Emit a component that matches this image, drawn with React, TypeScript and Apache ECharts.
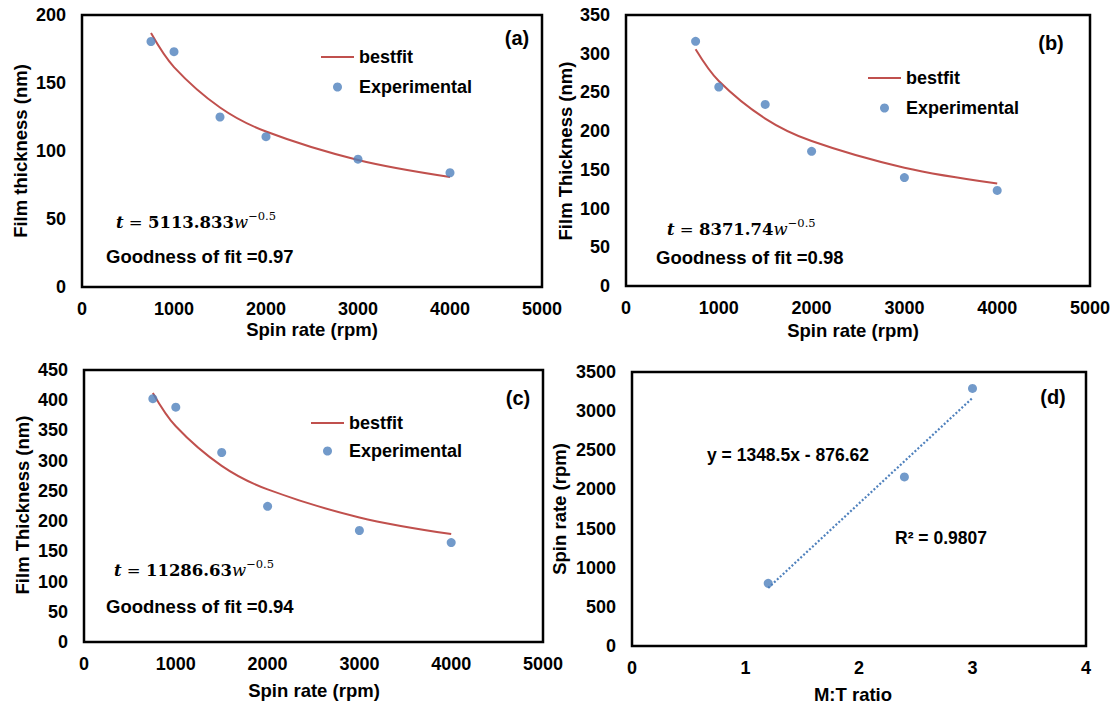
import React, { useEffect, useRef } from "react";
import * as echarts from "echarts";

// Spin rates used for panels (a)–(c)
const SPIN_RPM = [750, 1000, 1500, 2000, 3000, 4000];

// Panel (a)
const EXP_A = [180.5, 173, 125, 110.5, 94, 84];
const FIT_A = [186.7, 161.7, 132.0, 114.3, 93.4, 80.9];
// Panel (b)
const EXP_B = [316, 257, 234.5, 174, 140, 123.5];
const FIT_B = [305.7, 264.7, 216.2, 187.2, 152.8, 132.4];
// Panel (c)
const EXP_C = [402.5, 388.5, 313.5, 224.5, 184.5, 164.5];
const FIT_C = [412.1, 356.9, 291.4, 252.4, 206.1, 178.5];
// Panel (d)
const MT_RATIO = [1.2, 2.4, 3.0];
const SPIN_D = [800, 2160, 3290];
const TREND_X = [1.2, 3.0];
const TREND_Y = [741.58, 3168.88];

const RED = "#C0504D";
const BLUE = "#4F81BD";
const SANS = "'Liberation Sans', Arial, sans-serif";
const SERIF = "'DejaVu Serif', serif";

const zip = (xs: number[], ys: number[]) => xs.map((x, i) => [x, ys[i]]);

const grids = [
  { left: 82, top: 15, width: 460, height: 272 },
  { left: 626, top: 15, width: 464, height: 271 },
  { left: 84, top: 370, width: 459, height: 272 },
  { left: 632, top: 372, width: 454, height: 274 },
];

const axisLabel = {
  color: "#000",
  fontFamily: SANS,
  fontWeight: "bold" as const,
  fontSize: 18,
  formatter: (v: number) => String(v),
};

function xAxis(i: number, max: number, interval: number) {
  return {
    type: "value" as const,
    gridIndex: i,
    min: 0,
    max,
    interval,
    axisLine: { show: false },
    axisTick: { show: false },
    splitLine: { show: false },
    axisLabel: { ...axisLabel, margin: 13 },
  };
}

function yAxis(i: number, max: number, interval: number) {
  return {
    type: "value" as const,
    gridIndex: i,
    min: 0,
    max,
    interval,
    axisLine: { show: false },
    axisTick: { show: false },
    splitLine: { show: false },
    axisLabel: { ...axisLabel, margin: 16 },
  };
}

function fitSeries(i: number, data: number[]) {
  return {
    name: "bestfit",
    type: "line" as const,
    xAxisIndex: i,
    yAxisIndex: i,
    data: zip(SPIN_RPM, data),
    smooth: 0.35,
    symbol: "none",
    lineStyle: { color: RED, width: 2 },
    itemStyle: { color: RED },
    z: 2,
  };
}

function expSeries(i: number, data: number[]) {
  return {
    name: "Experimental",
    type: "scatter" as const,
    xAxisIndex: i,
    yAxisIndex: i,
    data: zip(SPIN_RPM, data),
    symbol: "circle",
    symbolSize: 9,
    itemStyle: { color: BLUE },
    z: 3,
  };
}

function legendAt(left: number, top: number, gap: number) {
  return {
    data: [
      { name: "bestfit", icon: "path://M0,0 L33,0 L33,2 L0,2 Z", itemStyle: { color: RED } },
      { name: "Experimental", icon: "circle" },
    ],
    orient: "vertical" as const,
    left,
    top,
    padding: 0,
    itemWidth: 33,
    itemHeight: 9,
    itemGap: gap,
    selectedMode: false,
    textStyle: { color: "#000", fontFamily: SANS, fontWeight: "bold" as const, fontSize: 18 },
  };
}

function boldText(text: string, x: number, y: number, size: number, align = "left") {
  return {
    type: "text" as const,
    x,
    y,
    style: {
      text,
      fill: "#000",
      font: `bold ${size}px ${SANS}`,
      align,
      verticalAlign: "middle",
    },
  };
}

function yTitle(text: string, x: number, y: number) {
  return {
    type: "text" as const,
    x,
    y,
    rotation: Math.PI / 2,
    style: {
      text,
      fill: "#000",
      font: `bold 18.5px ${SANS}`,
      align: "center",
      verticalAlign: "middle",
    },
  };
}

const eqRich = {
  t: { fontFamily: SERIF, fontStyle: "italic", fontWeight: "bold", fontSize: 16.5, lineHeight: 21, verticalAlign: "bottom", fill: "#000" },
  e: { fontFamily: SERIF, fontSize: 16.5, lineHeight: 21, verticalAlign: "bottom", fill: "#000" },
  n: { fontFamily: SERIF, fontWeight: "bold", fontSize: 16.5, lineHeight: 21, verticalAlign: "bottom", fill: "#000" },
  w: { fontFamily: SERIF, fontStyle: "italic", fontSize: 16.5, lineHeight: 21, verticalAlign: "bottom", fill: "#000" },
  s: { fontFamily: SERIF, fontSize: 11.5, lineHeight: 13, verticalAlign: "top", fill: "#000" },
};

function equation(coef: string, x: number, y: number) {
  return {
    type: "text" as const,
    x,
    y,
    style: {
      text: `{t|t}{e| = }{n|${coef}}{w|w}{s|\u22120.5}`,
      rich: eqRich,
      align: "left",
      verticalAlign: "middle",
    },
  };
}

export default function App() {
  const ref = useRef<HTMLDivElement>(null);

  useEffect(() => {
    if (!ref.current) return;
    const chart = echarts.init(ref.current, undefined, { renderer: "svg" });

    const option = {
      animation: false,
      backgroundColor: "#fff",
      grid: grids.map((g) => ({
        ...g,
        show: true,
        borderColor: "#000",
        borderWidth: 2.5,
        backgroundColor: "transparent",
        containLabel: false,
        outerBoundsMode: "none",
      })),
      xAxis: [xAxis(0, 5000, 1000), xAxis(1, 5000, 1000), xAxis(2, 5000, 1000), xAxis(3, 4, 1)],
      yAxis: [yAxis(0, 200, 50), yAxis(1, 350, 50), yAxis(2, 450, 50), yAxis(3, 3500, 500)],
      legend: [legendAt(321, 48, 12), legendAt(868, 69, 12), legendAt(311, 414, 10)],
      series: [
        fitSeries(0, FIT_A),
        expSeries(0, EXP_A),
        fitSeries(1, FIT_B),
        expSeries(1, EXP_B),
        fitSeries(2, FIT_C),
        expSeries(2, EXP_C),
        {
          name: "Linear trend",
          type: "line",
          xAxisIndex: 3,
          yAxisIndex: 3,
          data: zip(TREND_X, TREND_Y),
          symbol: "none",
          lineStyle: { color: BLUE, width: 2.2, type: [2, 2] },
          z: 2,
        },
        {
          name: "Spin rate",
          type: "scatter",
          xAxisIndex: 3,
          yAxisIndex: 3,
          data: zip(MT_RATIO, SPIN_D),
          symbol: "circle",
          symbolSize: 9,
          itemStyle: { color: BLUE },
          z: 3,
        },
      ],
      graphic: [
        // panel tags
        boldText("(a)", 517, 38, 20, "center"),
        boldText("(b)", 1051, 43, 20, "center"),
        boldText("(c)", 518, 398, 20, "center"),
        boldText("(d)", 1053, 397, 20, "center"),
        // fit equations and goodness of fit
        equation("5113.833", 116, 220),
        equation("8371.74", 667, 227),
        equation("11286.63", 114, 568),
        boldText("Goodness of fit =0.97", 106, 256, 18.5),
        boldText("Goodness of fit =0.98", 656, 257, 18.5),
        boldText("Goodness of fit =0.94", 106, 606, 18.5),
        // linear fit annotation for panel (d)
        boldText("y = 1348.5x - 876.62", 707, 455, 17.5),
        boldText("R\u00b2 = 0.9807", 895, 538, 17.5),
        // axis titles
        boldText("Spin rate (rpm)", 312, 329, 18.5, "center"),
        boldText("Spin rate (rpm)", 853, 330, 18.5, "center"),
        boldText("Spin rate (rpm)", 314, 690, 18.5, "center"),
        boldText("M:T ratio", 853, 694, 18.5, "center"),
        yTitle("Film thickness (nm)", 20, 151),
        yTitle("Film Thickness (nm)", 565, 151),
        yTitle("Film Thickness (nm)", 22, 505),
        yTitle("Spin rate (rpm)", 559, 509),
      ],
    };

    chart.setOption(option as any);
    return () => chart.dispose();
  }, []);

  return (
    <div
      ref={ref}
      style={{ position: "fixed", left: 0, top: 0, width: 1115, height: 704, background: "#fff" }}
    />
  );
}
